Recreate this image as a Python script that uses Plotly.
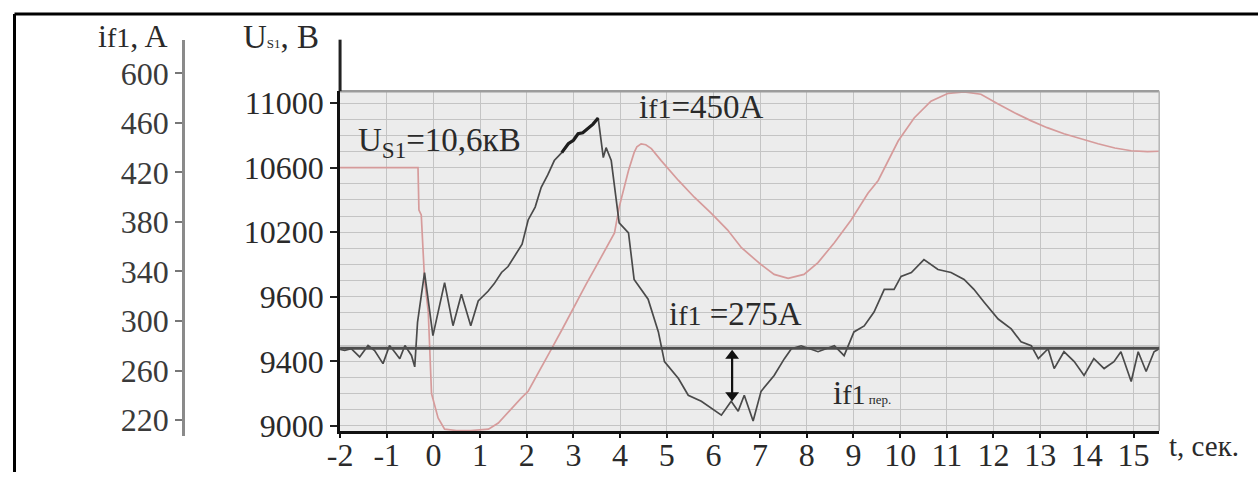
import plotly.graph_objects as go

W, H = 1258, 485

# ---------------- data ----------------
# Stator voltage U_S1, V
t_u = [-2.0, -0.33, -0.31, -0.26, -0.19, -0.11, -0.04, 0.10, 0.24, 0.49, 0.80, 1.18, 1.39,
       1.67, 1.88, 2.03, 2.27, 2.53, 2.78, 3.02, 3.27, 3.53, 3.70, 3.88, 3.98, 4.06, 4.18,
       4.30, 4.36, 4.45, 4.55, 4.67, 4.88, 5.25, 5.59, 5.95, 6.30, 6.60, 7.02, 7.30, 7.60,
       7.94, 8.24, 8.59, 8.95, 9.31, 9.53, 9.96, 10.30, 10.66, 11.03, 11.37, 11.73, 12.10,
       12.45, 12.81, 13.15, 13.51, 13.90, 14.24, 14.60, 14.95, 15.30, 15.55]
u_s1 = [10600, 10600, 10337, 10307, 9908, 9706, 9200, 9050, 8980, 8972, 8972, 8980, 9018,
        9110, 9172, 9215, 9345, 9478, 9610, 9742, 9877, 10012, 10100, 10196, 10356, 10442,
        10583, 10693, 10730, 10748, 10742, 10718, 10644, 10521, 10417, 10319, 10215, 10104,
        10000, 9939, 9914, 9939, 10012, 10135, 10276, 10442, 10521, 10767, 10908, 11012,
        11061, 11070, 11055, 10994, 10940, 10890, 10848, 10810, 10775, 10748, 10722, 10705,
        10700, 10702]

# Field current i_f1, A
t_i = [-2.0, -1.90, -1.76, -1.58, -1.40, -1.26, -1.08, -0.94, -0.83, -0.72, -0.61, -0.47,
       -0.40, -0.34, -0.19, -0.01, 0.24, 0.42, 0.60, 0.80, 0.96, 1.17, 1.30, 1.46, 1.60,
       1.73, 1.90, 2.03, 2.18, 2.31, 2.45, 2.59, 2.75, 2.89, 3.00, 3.10, 3.20, 3.32, 3.42,
       3.53, 3.58, 3.64, 3.70, 3.81, 3.98, 4.18, 4.30, 4.60, 4.82, 4.95, 5.25, 5.46, 5.74,
       5.95, 6.17, 6.38, 6.53, 6.66, 6.85, 7.02, 7.30, 7.52, 7.67, 7.88, 8.24, 8.59, 8.80,
       9.01, 9.23, 9.44, 9.66, 9.87, 10.02, 10.24, 10.51, 10.81, 11.09, 11.37, 11.58, 11.80,
       12.10, 12.38, 12.59, 12.81, 12.96, 13.17, 13.30, 13.51, 13.73, 13.94, 14.15, 14.37,
       14.58, 14.73, 14.95, 15.10, 15.27, 15.44, 15.55]
i_f1 = [277, 276.2, 277.6, 271.0, 280.2, 276.2, 265.6, 280.2, 275.0, 269.6, 280.2, 272.2,
        263.0, 299.0, 339.0, 288.2, 331.0, 296.2, 321.6, 296.2, 316.2, 324.0, 330.0, 339.2,
        344.0, 352.0, 362.0, 381.6, 392.0, 408.0, 418.0, 429.6, 436.0, 443.2, 446.0, 451.2,
        452.0, 456.0, 459.0, 464.0, 450.0, 432.0, 440.0, 429.6, 379.2, 371.2, 333.6, 317.6,
        291.2, 267.2, 253.6, 240.0, 235.2, 229.6, 224.0, 235.2, 227.2, 240.0, 219.2, 243.2,
        256.0, 269.6, 277.6, 280.0, 275.2, 280.0, 272.0, 291.2, 296.0, 307.2, 325.6, 325.6,
        336.0, 339.2, 349.6, 341.6, 339.2, 333.6, 325.6, 315.2, 301.6, 293.6, 283.2, 280.0,
        269.6, 277.6, 261.6, 275.2, 267.2, 256.0, 269.6, 261.6, 267.2, 275.2, 251.2, 275.2,
        259.2, 275.2, 277.6]

i_steady = 278            # horizontal steady-state level line
arrow_t = [6.4, 6.4]      # double arrow between the level line and the dip
arrow_i = [240, 272]

t_ticks = list(range(-2, 16))
u_tick_vals = [9000, 9400, 9800, 10200, 10600, 11000]
u_tick_text = ["9000", "9400", "9600", "10200", "10600", "11000"]
i_tick_vals = [220, 260, 300, 340, 380, 420, 460, 500]
i_tick_text = ["220", "260", "300", "340", "380", "420", "460", "600"]

# ---------------- helpers ----------------
# positions are given in reference-picture pixels; the photographed page shows the
# figure slightly shifted and scaled, so convert picture pixels to page fractions
OX, SX, OY, SY = 12.0, 0.9895, 3.0, 0.972

def fx(px):
    return ((px - OX) / SX) / W

def fy(py):
    return 1 - ((py - OY) / SY) / H

SERIF = "Liberation Serif, Times New Roman, serif"
TXT = "#2a2a2a"
GRID = "#c4c4c4"
TICK_SIZE = 32

fig = go.Figure()

fig.add_trace(go.Scatter(x=t_u, y=u_s1, mode="lines", xaxis="x", yaxis="y",
                         line=dict(color="#d69b9b", width=1.7), hoverinfo="skip"))
fig.add_trace(go.Scatter(x=t_i, y=i_f1, mode="lines", xaxis="x2", yaxis="y2",
                         line=dict(color="#4a4a4a", width=1.7), hoverinfo="skip"))
# darker, thicker stretch near the peak
bold_idx = [k for k, tv in enumerate(t_i) if 2.6 <= tv <= 3.55]
fig.add_trace(go.Scatter(x=[t_i[k] for k in bold_idx], y=[i_f1[k] for k in bold_idx],
                         mode="lines", xaxis="x2", yaxis="y2",
                         line=dict(color="#1e1e1e", width=3.2), hoverinfo="skip"))
# double-headed arrow
fig.add_trace(go.Scatter(x=arrow_t, y=arrow_i, mode="lines+markers", xaxis="x2", yaxis="y2",
                         line=dict(color="#111", width=2.2),
                         marker=dict(symbol=["triangle-down", "triangle-up"], size=12,
                                     color="#111"),
                         hoverinfo="skip"))

x_dom = [fx(339), fx(1158)]

fig.update_layout(
    width=W, height=H, autosize=False,
    margin=dict(l=0, r=0, t=0, b=0),
    paper_bgcolor="white", plot_bgcolor="rgba(0,0,0,0)",
    showlegend=False,
    font=dict(family=SERIF, color=TXT, size=TICK_SIZE),
    xaxis=dict(domain=x_dom, range=[-2, 15.55], anchor="y",
               tickmode="array", tickvals=t_ticks, ticktext=[str(v) for v in t_ticks],
               showgrid=True, gridcolor=GRID, gridwidth=1, zeroline=False,
               showline=True, linecolor="#111", linewidth=3,
               ticks="outside", ticklen=4, tickwidth=1.5, tickcolor="#111",
               ticklabelstandoff=-10,
               tickfont=dict(family=SERIF, size=TICK_SIZE, color=TXT)),
    yaxis=dict(domain=[fy(433), fy(90)], range=[8969, 11074], anchor="x", side="left",
               tickmode="array", tickvals=u_tick_vals, ticktext=u_tick_text,
               showgrid=True, gridcolor=GRID, gridwidth=1, zeroline=False,
               minor=dict(tickmode="linear", tick0=9000, dtick=100, showgrid=True,
                          gridcolor=GRID, gridwidth=1, ticks=""),
               showline=True, linecolor="#111", linewidth=3,
               ticks="outside", ticklen=7, tickwidth=2, tickcolor="#222",
               tickfont=dict(family=SERIF, size=TICK_SIZE, color=TXT)),
    xaxis2=dict(domain=x_dom, range=[-2, 15.55], anchor="y2", visible=False,
                showgrid=False, zeroline=False),
    yaxis2=dict(domain=[fy(438), fy(38)], range=[207.2, 527.2], anchor="free",
                position=fx(182), side="left",
                tickmode="array", tickvals=i_tick_vals, ticktext=i_tick_text,
                showgrid=False, zeroline=False,
                showline=True, linecolor="#8a8a8a", linewidth=3,
                ticks="outside", ticklen=7, tickwidth=2, tickcolor="#777",
                tickfont=dict(family=SERIF, size=TICK_SIZE, color="#3a3a3a")),
)

shapes = [
    dict(type="rect", xref="x domain", yref="y domain", x0=0, x1=1, y0=0, y1=1,
         fillcolor="#ececec", line=dict(width=0), layer="below"),
    dict(type="line", xref="x domain", yref="y domain", x0=0, x1=1, y0=1, y1=1,
         line=dict(color="#9c9c9c", width=2.5)),
    dict(type="line", xref="x domain", yref="y domain", x0=1, x1=1, y0=0, y1=1,
         line=dict(color="#b4b4b4", width=1.5)),
    dict(type="line", xref="paper", yref="paper", x0=fx(339), x1=fx(339), y0=fy(90), y1=fy(38),
         line=dict(color="#222", width=3)),
    dict(type="line", xref="x domain", yref="y2", x0=0, x1=1, y0=i_steady, y1=i_steady,
         line=dict(color="#4d4d4d", width=3)),
    # page frame (left edge kept just inside the page)
    dict(type="line", xref="paper", yref="paper", x0=fx(13.5), x1=fx(13.5), y0=0, y1=fy(12),
         line=dict(color="black", width=3)),
    dict(type="line", xref="paper", yref="paper", x0=fx(13.5), x1=1, y0=fy(12), y1=fy(12),
         line=dict(color="black", width=3)),
]
fig.update_layout(shapes=shapes)

tiny = "font-size:13px"
f1 = "font-size:28px"
ann = [
    dict(text="i<span style='" + f1 + "'>f1</span>, A", x=fx(95), y=fy(34), size=32),
    dict(text="U<span style='" + tiny + "'>S1</span>, B", x=fx(240), y=fy(35), size=33),
    dict(text="U<sub style='font-size:18px'>S1</sub>=10,6кВ", x=fx(355), y=fy(142), size=33),
    dict(text="i<span style='" + f1 + "'>f1</span>=450A", x=fx(636), y=fy(106), size=33),
    dict(text="i<span style='" + f1 + "'>f1</span> =275A", x=fx(666), y=fy(315), size=33),
    dict(text="i<span style='" + f1 + "'>f1</span><span style='" + tiny + "'> пер.</span>",
         x=fx(830), y=fy(395), size=33),
    dict(text="t, сек.", x=fx(1166), y=fy(448), size=29),
]
annotations = []
for a in ann:
    annotations.append(dict(text=a["text"], x=a["x"], y=a["y"], xref="paper", yref="paper",
                            xanchor="left", yanchor="middle", showarrow=False,
                            font=dict(family=SERIF, size=a["size"], color=TXT)))
fig.update_layout(annotations=annotations)

fig.write_html("out.html", config={"displayModeBar": False, "responsive": False},
               post_script="document.body.style.margin='0px';"
                           "document.documentElement.style.overflow='hidden';"
                           "document.body.style.overflow='hidden';")
